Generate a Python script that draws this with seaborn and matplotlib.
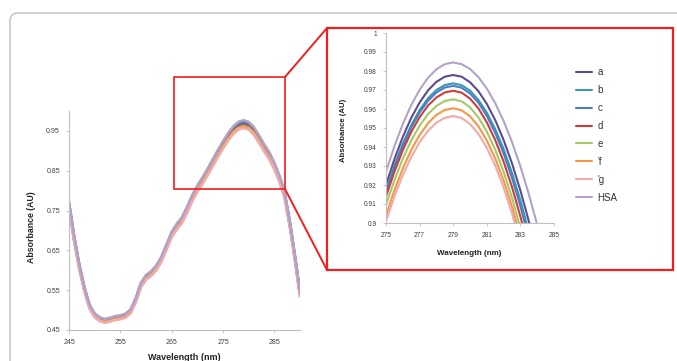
import numpy as np
import pandas as pd
import matplotlib
matplotlib.use("Agg")
import matplotlib.pyplot as plt
import seaborn as sns
from matplotlib.patches import Rectangle, FancyBboxPatch
from matplotlib.lines import Line2D
from matplotlib.transforms import IdentityTransform

# ---------------- data ----------------
series_names = ["a", "b", "c", "d", "e", "'f", "'g", "HSA"]
series_colors = ["#5E4A8E", "#3E95AE", "#4A7EC8", "#C8403A",
                 "#A5C86A", "#F79646", "#F2AAAA", "#B3A2C7"]

# full spectrum (band centre) and per-series scale seen in the main panel
base_wl = [245, 246, 247, 248, 249, 250, 251, 252, 253, 254, 255, 256, 257,
           258, 259, 260, 261, 262, 263, 264, 265, 266, 267, 268, 269, 270,
           271, 272, 273, 274, 275, 276, 277, 278, 279, 280, 281, 282, 283,
           284, 285, 286, 287, 288, 289, 290]
base_abs = [0.765, 0.680, 0.610, 0.553, 0.509, 0.487, 0.477, 0.473, 0.476,
            0.480, 0.482, 0.486, 0.497, 0.525, 0.563, 0.582, 0.592, 0.606,
            0.628, 0.659, 0.690, 0.710, 0.726, 0.752, 0.781, 0.805, 0.825,
            0.847, 0.870, 0.893, 0.915, 0.935, 0.952, 0.963, 0.967, 0.963,
            0.950, 0.930, 0.908, 0.888, 0.862, 0.830, 0.790, 0.718, 0.633,
            0.540]
main_scale = [1.005, 1.002, 1.0005, 0.998, 0.995, 0.9925, 0.990, 1.010]

# zoomed region 275-284 nm
inset_wl = [275.0, 275.5, 276.0, 276.5, 277.0, 277.5, 278.0, 278.5, 279.0,
            279.5, 280.0, 280.5, 281.0, 281.5, 282.0, 282.5, 283.0, 283.5,
            284.0]
inset_a = [0.9200, 0.9336, 0.9453, 0.9553, 0.9634, 0.9698, 0.9743, 0.9770,
           0.9779, 0.9770, 0.9741, 0.9694, 0.9627, 0.9542, 0.9437, 0.9314,
           0.9171, 0.9010, 0.8829]
inset_b = [0.9170, 0.9303, 0.9417, 0.9514, 0.9594, 0.9656, 0.9700, 0.9726,
           0.9735, 0.9725, 0.9697, 0.9648, 0.9581, 0.9494, 0.9389, 0.9263,
           0.9119, 0.8955, 0.8772]
inset_c = [0.9160, 0.9292, 0.9406, 0.9503, 0.9582, 0.9643, 0.9687, 0.9713,
           0.9722, 0.9712, 0.9682, 0.9633, 0.9564, 0.9475, 0.9366, 0.9237,
           0.9088, 0.8920, 0.8732]
inset_d = [0.9140, 0.9270, 0.9383, 0.9479, 0.9557, 0.9618, 0.9661, 0.9687,
           0.9696, 0.9686, 0.9655, 0.9603, 0.9530, 0.9437, 0.9323, 0.9189,
           0.9034, 0.8858, 0.8661]
inset_e = [0.9095, 0.9225, 0.9338, 0.9434, 0.9512, 0.9573, 0.9616, 0.9642,
           0.9651, 0.9640, 0.9609, 0.9556, 0.9481, 0.9386, 0.9269, 0.9132,
           0.8973, 0.8792, 0.8591]
inset_f = [0.9040, 0.9172, 0.9287, 0.9384, 0.9463, 0.9525, 0.9569, 0.9595,
           0.9604, 0.9593, 0.9562, 0.9509, 0.9435, 0.9340, 0.9223, 0.9086,
           0.8927, 0.8747, 0.8546]
inset_g = [0.9010, 0.9140, 0.9252, 0.9347, 0.9425, 0.9485, 0.9528, 0.9554,
           0.9563, 0.9553, 0.9521, 0.9469, 0.9396, 0.9302, 0.9187, 0.9051,
           0.8894, 0.8717, 0.8518]
inset_hsa = [0.9269, 0.9404, 0.9521, 0.9620, 0.9701, 0.9764, 0.9809, 0.9836,
             0.9845, 0.9836, 0.9811, 0.9768, 0.9708, 0.9631, 0.9537, 0.9426,
             0.9298, 0.9152, 0.8990]
inset_values = [inset_a, inset_b, inset_c, inset_d, inset_e, inset_f,
                inset_g, inset_hsa]

main_xticks = [245, 255, 265, 275, 285]
main_yticks = [0.45, 0.55, 0.65, 0.75, 0.85, 0.95]
main_ytick_labels = ["0.45", "0.55", "0.65", "0.75", "0.85", "0.95"]
inset_xticks = [275, 277, 279, 281, 283, 285]
inset_yticks = [0.90, 0.91, 0.92, 0.93, 0.94, 0.95, 0.96, 0.97, 0.98, 0.99, 1.00]
inset_ytick_labels = ["0.9", "0.91", "0.92", "0.93", "0.94", "0.95", "0.96",
                      "0.97", "0.98", "0.99", "1"]

# ---------------- tables ----------------
main_rows = []
for name, sc in zip(series_names, main_scale):
    for w, v in zip(base_wl, base_abs):
        main_rows.append((name, w, v * sc))
df_main = pd.DataFrame(main_rows, columns=["series", "wl", "abs"])

inset_rows = []
for name, vals in zip(series_names, inset_values):
    for w, v in zip(inset_wl, vals):
        inset_rows.append((name, w, v))
df_inset = pd.DataFrame(inset_rows, columns=["series", "wl", "abs"])

palette = dict(zip(series_names, series_colors))

# ---------------- style ----------------
sns.set_theme(style="white")
plt.rcParams["font.family"] = ["Liberation Sans", "DejaVu Sans"]

W, H = 677, 361
fig = plt.figure(figsize=(W / 100, H / 100), dpi=100)
fig.patch.set_facecolor("white")

def fx(px):
    return px / W

def fy(py):
    return 1 - py / H

spine_col = "#BFBFBF"
tick_col = "#404040"

# ---------------- main axes ----------------
ax = fig.add_axes([fx(69), fy(330), fx(300) - fx(69), fy(111) - fy(330)])
sns.lineplot(data=df_main, x="wl", y="abs", hue="series", hue_order=series_names,
             palette=palette, ax=ax, lw=1.9, legend=False, sort=False)
ax.set_xlim(245, 290)
ax.set_ylim(0.45, 1.0)
ax.set_xticks(main_xticks)
ax.set_xticklabels([str(t) for t in main_xticks])
ax.set_yticks(main_yticks)
ax.set_yticklabels(main_ytick_labels)
for s in ["top", "right"]:
    ax.spines[s].set_visible(False)
for s in ["left", "bottom"]:
    ax.spines[s].set_color(spine_col)
    ax.spines[s].set_linewidth(0.8)
ax.tick_params(axis="both", which="both", length=2.5, width=0.6, color=spine_col,
               labelsize=5, labelcolor=tick_col, direction="out", pad=4,
               left=True, bottom=True)
ax.set_xlabel("Wavelength (nm)", fontsize=6.5, fontweight="bold", color="#222222")
ax.set_ylabel("Absorbance (AU)", fontsize=6.3, fontweight="bold", color="#222222")
ax.xaxis.set_label_coords(0.5, -0.105)
ax.yaxis.set_label_coords(-0.145, 0.47)
ax.set_facecolor("white")

# ---------------- inset axes ----------------
ax2 = fig.add_axes([fx(386), fy(223), fx(554) - fx(386), fy(33) - fy(223)])
sns.lineplot(data=df_inset, x="wl", y="abs", hue="series", hue_order=series_names,
             palette=palette, ax=ax2, lw=1.5, legend=False, sort=False)
ax2.set_xlim(275, 285)
ax2.set_ylim(0.9, 1.0)
ax2.set_xticks(inset_xticks)
ax2.set_xticklabels([str(t) for t in inset_xticks])
ax2.set_yticks(inset_yticks)
ax2.set_yticklabels(inset_ytick_labels)
for s in ["top", "right"]:
    ax2.spines[s].set_visible(False)
for s in ["left", "bottom"]:
    ax2.spines[s].set_color(spine_col)
    ax2.spines[s].set_linewidth(0.8)
ax2.tick_params(axis="both", which="both", length=2.5, width=0.6, color=spine_col,
                labelsize=4.8, labelcolor=tick_col, direction="out", pad=4,
                left=True, bottom=True)
ax2.set_xlabel("Wavelength (nm)", fontsize=5.8, fontweight="bold", color="#222222")
ax2.set_ylabel("Absorbance (AU)", fontsize=5.6, fontweight="bold", color="#222222")
ax2.xaxis.set_label_coords(0.494, -0.142)
ax2.yaxis.set_label_coords(-0.232, 0.49)
ax2.set_facecolor("white")

handles = [Line2D([0], [0], color=c, lw=1.5) for c in series_colors]
fig.legend(handles, series_names, loc="upper left",
           bbox_to_anchor=(fx(576), fy(67)), bbox_transform=fig.transFigure,
           frameon=False, fontsize=7, handlelength=1.6, handletextpad=0.6,
           labelspacing=0.82, borderpad=0, borderaxespad=0,
           labelcolor="#333333")

# ---------------- annotation frames ----------------
red = "#F01E1E"
fig.add_artist(Rectangle((fx(327), fy(270)), fx(673) - fx(327), fy(28) - fy(270),
                         transform=fig.transFigure, fill=False, ec=red, lw=1.6))
fig.add_artist(Rectangle((fx(174), fy(189)), fx(285) - fx(174), fy(77) - fy(189),
                         transform=fig.transFigure, fill=False, ec=red, lw=1.2))
fig.add_artist(Line2D([fx(285), fx(327)], [fy(77), fy(28)],
                      transform=fig.transFigure, color=red, lw=1.4))
fig.add_artist(Line2D([fx(285), fx(327)], [fy(189), fy(270)],
                      transform=fig.transFigure, color=red, lw=1.4))

# outer rounded grey border (partially outside the canvas)
fig.add_artist(FancyBboxPatch((10, -60), 760, H - 13 + 60,
                              boxstyle="round,pad=0,rounding_size=8",
                              transform=IdentityTransform(), fill=False,
                              ec="#C4C4C4", lw=1.1))

fig.savefig("out.png", dpi=100)
